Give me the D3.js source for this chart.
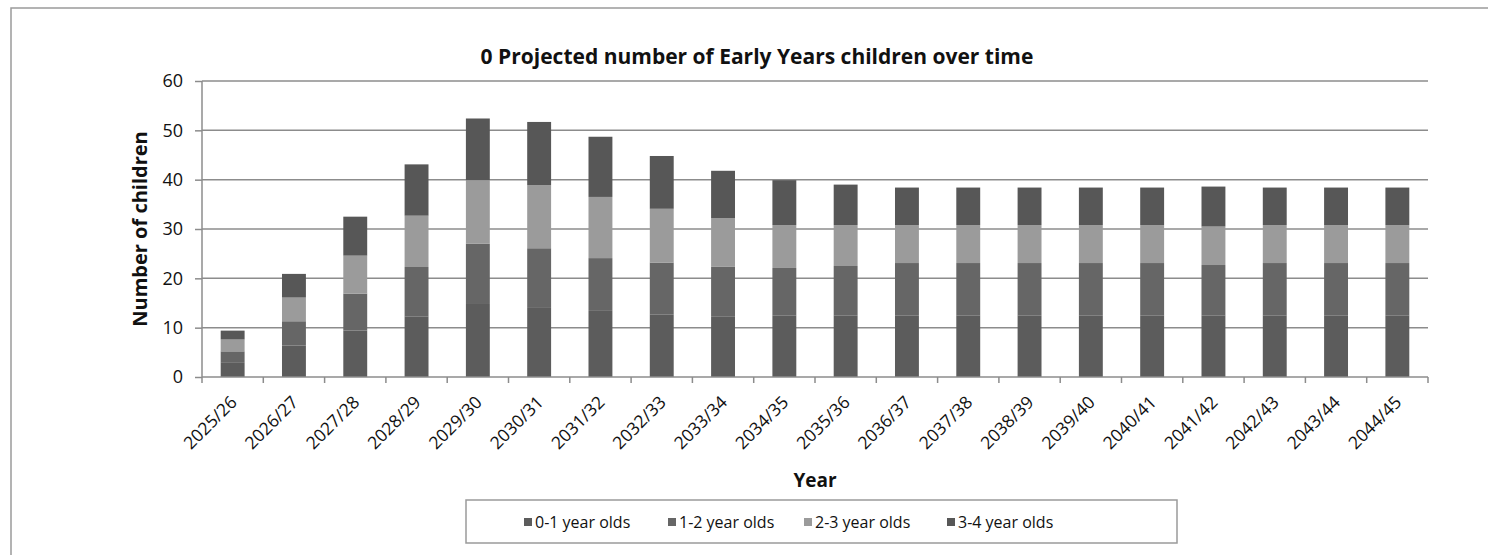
<!DOCTYPE html>
<html>
<head>
<meta charset="utf-8">
<script src="https://cdn.jsdelivr.net/npm/d3@7"></script>
<style>
  body { margin: 0; background: #fff; }
  text { font-family: "Open Sans", Lato, sans-serif; fill: #111; }
</style>
</head>
<body>
<svg id="chart" width="1488" height="555"></svg>
<script>
const years = ['2025/26','2026/27','2027/28','2028/29','2029/30','2030/31','2031/32','2032/33','2033/34','2034/35',
  '2035/36','2036/37','2037/38','2038/39','2039/40','2040/41','2041/42','2042/43','2043/44','2044/45'];
const seriesNames = ['0-1 year olds', '1-2 year olds', '2-3 year olds', '3-4 year olds'];
// values per age group, one per year
const age01 = [3.0, 6.4, 9.4, 12.3, 14.8, 14.0, 13.4, 12.7, 12.2, 12.5, 12.5, 12.5, 12.5, 12.5, 12.5, 12.5, 12.5, 12.5, 12.5, 12.5];
const age12 = [2.2, 4.9, 7.5, 10.0, 12.2, 12.1, 10.7, 10.5, 10.2, 9.6, 10.0, 10.6, 10.6, 10.6, 10.6, 10.6, 10.2, 10.6, 10.6, 10.6];
const age23 = [2.4, 4.8, 7.7, 10.4, 12.9, 12.8, 12.4, 10.9, 9.8, 8.7, 8.3, 7.7, 7.7, 7.7, 7.7, 7.7, 7.8, 7.7, 7.7, 7.7];
const age34 = [1.8, 4.8, 7.9, 10.4, 12.5, 12.8, 12.2, 10.7, 9.6, 9.1, 8.2, 7.6, 7.6, 7.6, 7.6, 7.6, 8.1, 7.6, 7.6, 7.6];
const yTicks = [0, 10, 20, 30, 40, 50, 60];
const colors = ['#5c5c5c', '#666666', '#9b9b9b', '#575757'];

const rows = years.map((y, i) => ({year: y, a0: age01[i], a1: age12[i], a2: age23[i], a3: age34[i]}));
const keys = ['a0', 'a1', 'a2', 'a3'];
const stacked = d3.stack().keys(keys)(rows);

const svg = d3.select('#chart');
const plotLeft = 202, plotRight = 1428, plotTop = 81, plotBottom = 377;

// outer frame
svg.append('rect')
  .attr('x', 11).attr('y', 8).attr('width', 1600).attr('height', 700)
  .attr('fill', 'none').attr('stroke', '#9a9a9a').attr('stroke-width', 1.5);

const x = d3.scaleBand().domain(years).range([plotLeft, plotRight]).paddingInner(0.61).paddingOuter(0.305);
const xStep = d3.scaleBand().domain(years).range([plotLeft, plotRight]).step();
const y = d3.scaleLinear().domain([0, 60]).range([plotBottom, plotTop]);

// gridlines
svg.append('g')
  .selectAll('line')
  .data(yTicks.filter(d => d > 0))
  .join('line')
  .attr('x1', plotLeft).attr('x2', plotRight)
  .attr('y1', d => y(d)).attr('y2', d => y(d))
  .attr('stroke', '#8c8c8c').attr('stroke-width', 1.5);

// bars
svg.append('g')
  .selectAll('g')
  .data(stacked)
  .join('g')
  .attr('fill', (d, i) => colors[i])
  .selectAll('rect')
  .data(d => d)
  .join('rect')
  .attr('x', d => x(d.data.year))
  .attr('width', x.bandwidth())
  .attr('y', d => y(d[1]))
  .attr('height', d => y(d[0]) - y(d[1]));

// y axis
const yAxis = svg.append('g')
  .attr('transform', `translate(${plotLeft},0)`)
  .call(d3.axisLeft(y).tickValues(yTicks).tickSize(7).tickPadding(12));
yAxis.selectAll('line, path').attr('stroke', '#8c8c8c').attr('stroke-width', 1.5);
yAxis.selectAll('text').style('font-size', '18px').style('font-family', '"Open Sans", sans-serif').attr('fill', '#111');
yAxis.select('.domain').attr('d', `M0,${plotBottom}V${plotTop}`);

// x axis
const xAxis = svg.append('g').attr('transform', `translate(0,${plotBottom})`);
xAxis.append('line')
  .attr('x1', plotLeft).attr('x2', plotRight)
  .attr('stroke', '#8c8c8c').attr('stroke-width', 1.5);
xAxis.selectAll('.tk')
  .data(years.concat(['end']))
  .join('line')
  .attr('class', 'tk')
  .attr('x1', (d, i) => plotLeft + i * xStep)
  .attr('x2', (d, i) => plotLeft + i * xStep)
  .attr('y1', 0).attr('y2', 6)
  .attr('stroke', '#8c8c8c').attr('stroke-width', 1.5);
xAxis.selectAll('text')
  .data(years)
  .join('text')
  .attr('transform', d => `translate(${x(d) + x.bandwidth() / 2 + 1},${22}) rotate(-45)`)
  .attr('text-anchor', 'end')
  .attr('dy', '0.35em')
  .style('font-size', '17.5px')
  .text(d => d);

// titles
svg.append('text')
  .attr('x', 757).attr('y', 64)
  .attr('text-anchor', 'middle')
  .style('font-size', '21px').style('font-weight', 'bold')
  .text('0 Projected number of Early Years children over time');

svg.append('text')
  .attr('transform', `translate(147,${(plotTop + plotBottom) / 2}) rotate(-90)`)
  .attr('text-anchor', 'middle')
  .style('font-size', '20px').style('font-weight', 'bold')
  .text('Number of children');

svg.append('text')
  .attr('x', (plotLeft + plotRight) / 2).attr('y', 487)
  .attr('text-anchor', 'middle')
  .style('font-size', '19px').style('font-weight', 'bold')
  .text('Year');

// legend
const lg = svg.append('g');
lg.append('rect')
  .attr('x', 466).attr('y', 500).attr('width', 711).attr('height', 43)
  .attr('fill', '#fff').attr('stroke', '#9a9a9a').attr('stroke-width', 1.5);
const legendX = [524, 668, 804, 947];
const item = lg.selectAll('g.item')
  .data(seriesNames)
  .join('g')
  .attr('class', 'item')
  .attr('transform', (d, i) => `translate(${legendX[i]},522)`);
item.append('rect')
  .attr('x', 0).attr('y', -4).attr('width', 8).attr('height', 8)
  .attr('fill', (d, i) => colors[i]);
item.append('text')
  .attr('x', 11).attr('dy', '0.35em')
  .style('font-size', '16px')
  .text(d => d);
</script>
</body>
</html>
